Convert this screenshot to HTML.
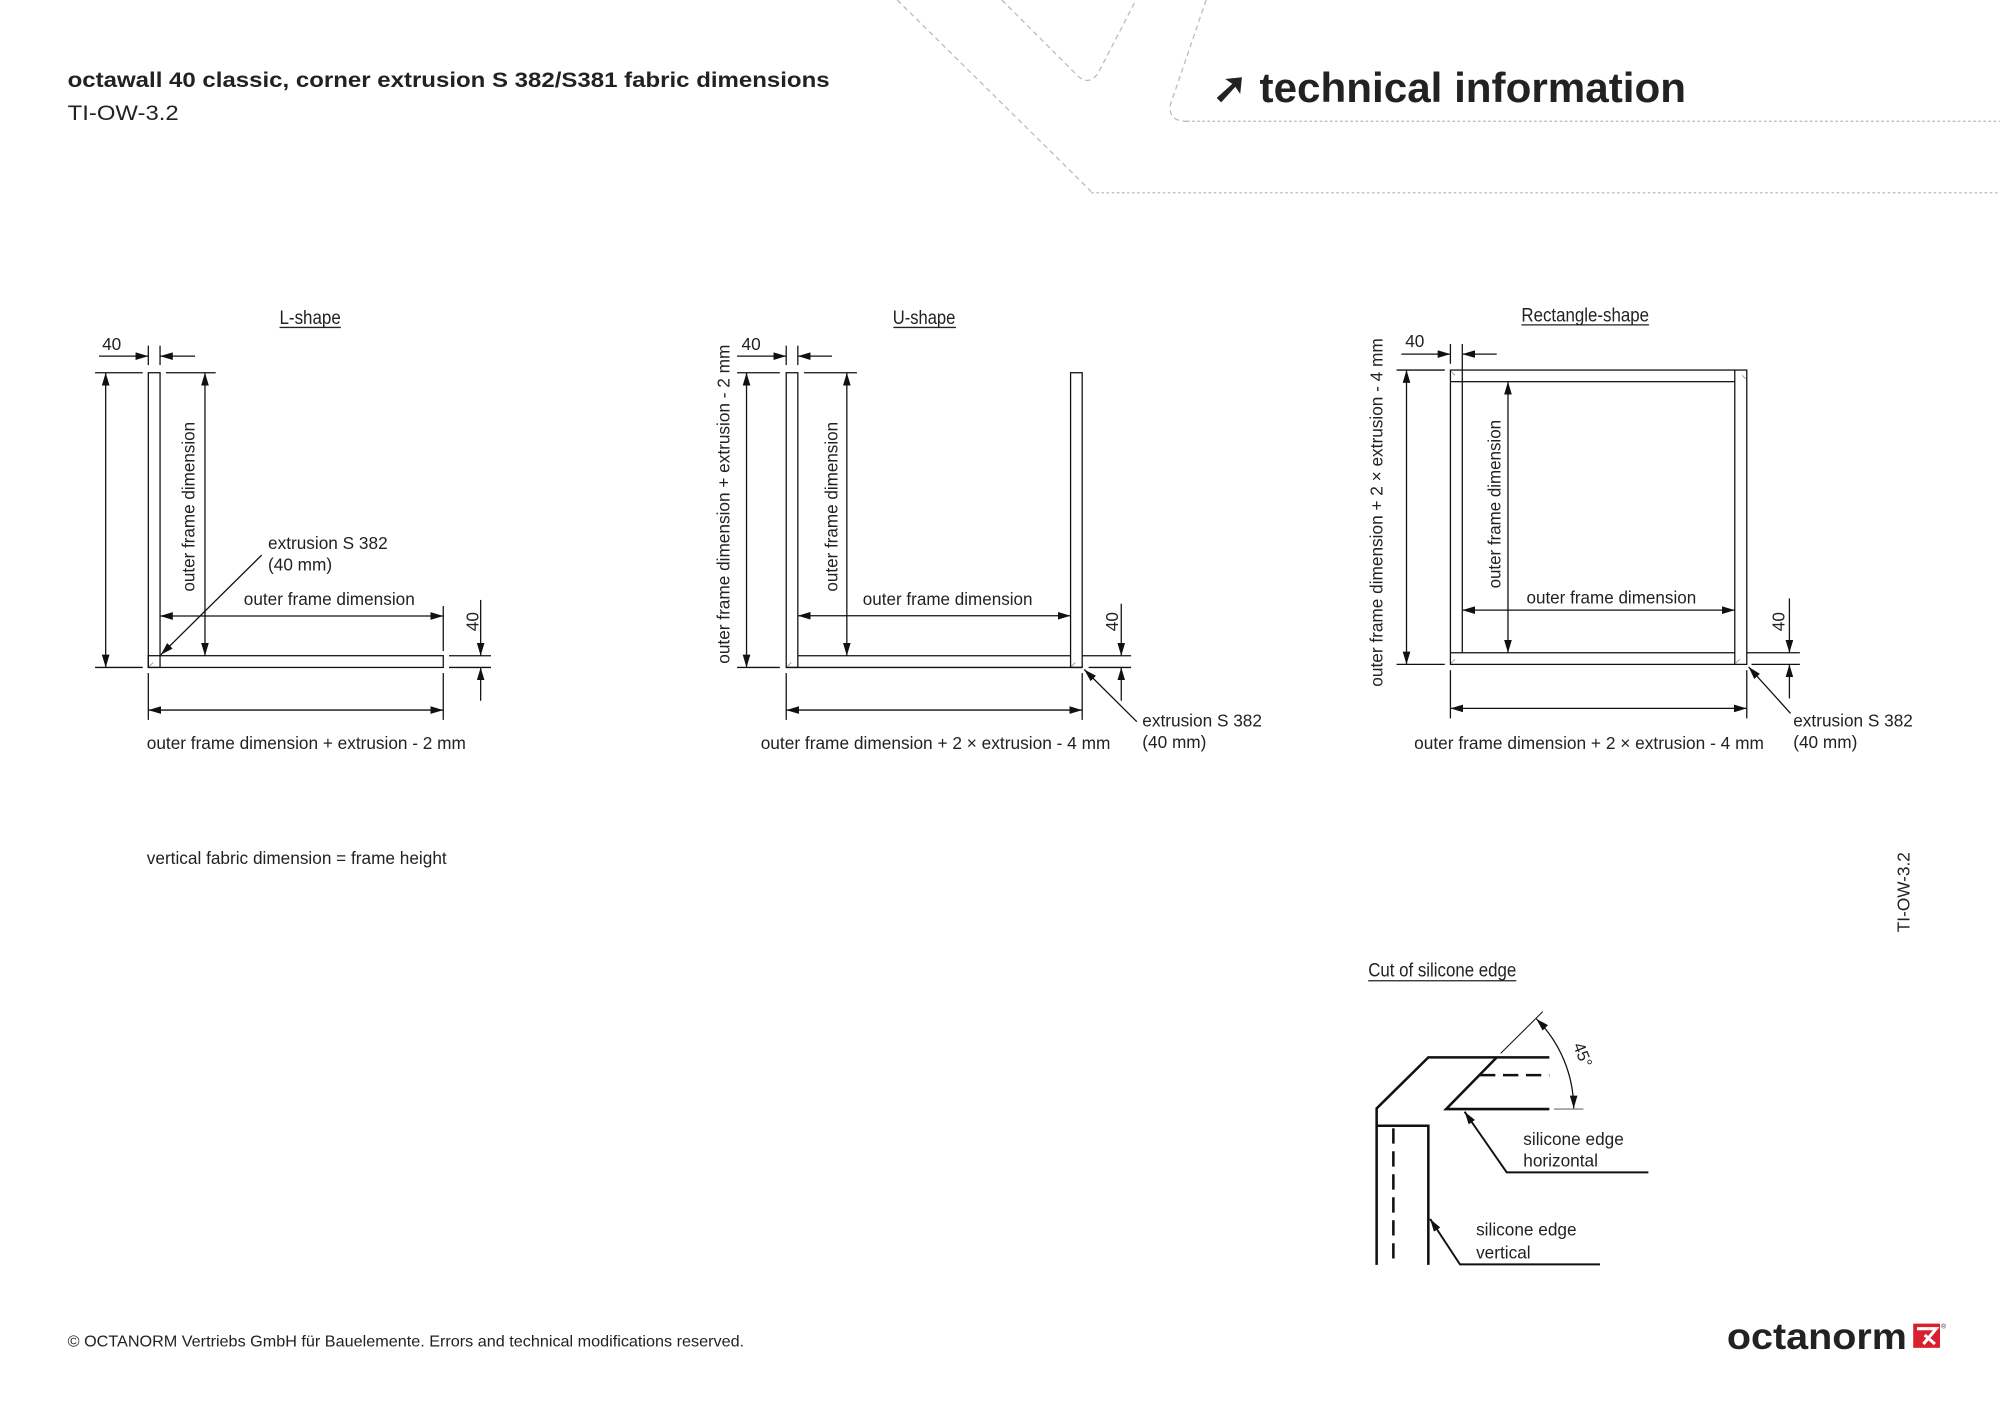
<!DOCTYPE html>
<html><head><meta charset="utf-8"><style>
html,body{margin:0;padding:0;background:#fff}
svg{display:block}
text{font-family:"Liberation Sans",sans-serif;fill:#222}
</style></head><body>
<svg width="2000" height="1413" viewBox="0 0 1567 1107" xmlns="http://www.w3.org/2000/svg">
<defs>
<marker id="a" markerUnits="userSpaceOnUse" markerWidth="11" markerHeight="6" refX="10" refY="3" orient="auto-start-reverse"><path d="M0,0 L10,3 L0,6 z" fill="#111"/></marker>
</defs>
<!-- header decor -->
<g fill="none" stroke="#bbb" stroke-width="1" stroke-dasharray="4,3">
<path d="M703,0 L855,150"/>
<path d="M855,151 L1567,151" stroke-dasharray="2,2"/>
<path d="M785,0 L843,58 Q852,68 860,58 L890,0"/>
<path d="M945,0 L917,82 Q915,95 930,95"/>
<path d="M930,95 L1567,95" stroke-dasharray="2,2"/>
</g>
<text x="53" y="68" font-size="17" font-weight="bold" fill="#3a3a3a" textLength="597" lengthAdjust="spacingAndGlyphs">octawall 40 classic, corner extrusion S 382/S381 fabric dimensions</text>
<text x="53" y="94" font-size="17" fill="#666" textLength="87" lengthAdjust="spacingAndGlyphs">TI-OW-3.2</text>
<text x="950" y="80" font-size="33" font-weight="bold" fill="#3a3a3a" textLength="371" lengthAdjust="spacingAndGlyphs">➚ technical information</text>

<g stroke="#111" stroke-width="1" fill="none">
<!-- L shape -->
<rect x="116.2" y="292" width="9.2" height="230.9"/>
<rect x="116.2" y="513.7" width="231.1" height="9.2"/>
<line x1="74.5" y1="292" x2="111.8" y2="292"/><line x1="130" y1="292" x2="169" y2="292"/>
<line x1="74.5" y1="522.9" x2="111.8" y2="522.9"/>
<line x1="82.8" y1="292" x2="82.8" y2="522.9" marker-start="url(#a)" marker-end="url(#a)"/>
<line x1="160.6" y1="292" x2="160.6" y2="513.7" marker-start="url(#a)" marker-end="url(#a)"/>
<line x1="116.2" y1="270.8" x2="116.2" y2="286"/><line x1="125.4" y1="270.8" x2="125.4" y2="286"/>
<line x1="77.6" y1="279" x2="116.2" y2="279" marker-end="url(#a)"/><line x1="152.8" y1="279" x2="125.4" y2="279" marker-end="url(#a)"/>
<line x1="125.4" y1="482.6" x2="347.3" y2="482.6" marker-start="url(#a)" marker-end="url(#a)"/>
<line x1="347.3" y1="474.8" x2="347.3" y2="510"/>
<line x1="351.8" y1="513.7" x2="384.7" y2="513.7"/><line x1="351.8" y1="522.9" x2="384.7" y2="522.9"/>
<line x1="376.6" y1="470" x2="376.6" y2="513.7" marker-end="url(#a)"/><line x1="376.6" y1="549" x2="376.6" y2="522.9" marker-end="url(#a)"/>
<line x1="116.2" y1="527.3" x2="116.2" y2="564"/><line x1="347.3" y1="527.3" x2="347.3" y2="564"/>
<line x1="116.2" y1="556.3" x2="347.3" y2="556.3" marker-start="url(#a)" marker-end="url(#a)"/>
<line x1="205" y1="434.9" x2="126" y2="513" marker-end="url(#a)"/>

<!-- U shape -->
<rect x="616" y="292" width="9.1" height="230.9"/>
<rect x="838.8" y="292" width="9.1" height="230.9"/>
<line x1="625.1" y1="513.7" x2="838.8" y2="513.7"/><line x1="616" y1="522.9" x2="847.9" y2="522.9"/>
<line x1="577.5" y1="292" x2="611" y2="292"/><line x1="630" y1="292" x2="671.4" y2="292"/>
<line x1="577.5" y1="522.9" x2="611" y2="522.9"/>
<line x1="584.9" y1="292" x2="584.9" y2="522.9" marker-start="url(#a)" marker-end="url(#a)"/>
<line x1="663.5" y1="292" x2="663.5" y2="513.7" marker-start="url(#a)" marker-end="url(#a)"/>
<line x1="616" y1="270.8" x2="616" y2="286"/><line x1="625.1" y1="270.8" x2="625.1" y2="286"/>
<line x1="577.5" y1="279" x2="616" y2="279" marker-end="url(#a)"/><line x1="651.9" y1="279" x2="625.1" y2="279" marker-end="url(#a)"/>
<line x1="625.1" y1="482.4" x2="838.8" y2="482.4" marker-start="url(#a)" marker-end="url(#a)"/>
<line x1="847.9" y1="513.7" x2="886.2" y2="513.7"/><line x1="852.9" y1="522.9" x2="886.2" y2="522.9"/>
<line x1="878.5" y1="473" x2="878.5" y2="513.7" marker-end="url(#a)"/><line x1="878.5" y1="549" x2="878.5" y2="522.9" marker-end="url(#a)"/>
<line x1="616" y1="527.3" x2="616" y2="564"/><line x1="847.9" y1="527.3" x2="847.9" y2="564"/>
<line x1="616" y1="556.3" x2="847.9" y2="556.3" marker-start="url(#a)" marker-end="url(#a)"/>
<line x1="890.7" y1="565.4" x2="849.5" y2="524.5" marker-end="url(#a)"/>

<!-- Rectangle -->
<rect x="1136.4" y="289.9" width="232.2" height="230.6"/>
<rect x="1145.7" y="299" width="213.5" height="212.4"/>
<line x1="1145.7" y1="269.5" x2="1145.7" y2="299"/>
<line x1="1136.4" y1="269.5" x2="1136.4" y2="285"/>
<line x1="1136.4" y1="299" x2="1145.7" y2="299"/><line x1="1359.2" y1="289.9" x2="1359.2" y2="299"/>
<line x1="1136.4" y1="511.4" x2="1145.7" y2="511.4"/><line x1="1359.2" y1="511.4" x2="1359.2" y2="520.5"/>
<line x1="1094.2" y1="289.9" x2="1132" y2="289.9"/><line x1="1094.2" y1="520.5" x2="1132" y2="520.5"/>
<line x1="1102" y1="289.9" x2="1102" y2="520.5" marker-start="url(#a)" marker-end="url(#a)"/>
<line x1="1181.5" y1="299" x2="1181.5" y2="511.4" marker-start="url(#a)" marker-end="url(#a)"/>
<line x1="1098" y1="277.4" x2="1136.4" y2="277.4" marker-end="url(#a)"/><line x1="1172.7" y1="277.4" x2="1145.7" y2="277.4" marker-end="url(#a)"/>
<line x1="1145.7" y1="478" x2="1359.2" y2="478" marker-start="url(#a)" marker-end="url(#a)"/>
<line x1="1368.6" y1="511.4" x2="1410.2" y2="511.4"/><line x1="1372.3" y1="520.5" x2="1410.2" y2="520.5"/>
<line x1="1402" y1="468.8" x2="1402" y2="511.4" marker-end="url(#a)"/><line x1="1402" y1="547.2" x2="1402" y2="520.5" marker-end="url(#a)"/>
<line x1="1136.4" y1="525" x2="1136.4" y2="562.8"/><line x1="1368.6" y1="525" x2="1368.6" y2="562.8"/>
<line x1="1136.4" y1="555" x2="1368.6" y2="555" marker-start="url(#a)" marker-end="url(#a)"/>
<line x1="1402.9" y1="558.9" x2="1370" y2="522.5" marker-end="url(#a)"/>
</g>
<g stroke="#888" stroke-width="0.6">
<line x1="117" y1="522" x2="120" y2="519"/><line x1="617" y1="522" x2="620" y2="519"/><line x1="839.5" y1="522" x2="842.5" y2="519"/>
<line x1="1137" y1="519.5" x2="1140" y2="516.5"/><line x1="1360" y1="519.5" x2="1363" y2="516.5"/>
<line x1="1137" y1="291" x2="1140" y2="294"/><line x1="1365" y1="294" x2="1368" y2="297"/>
</g>

<!-- labels -->
<g font-size="13.5">
<text x="243" y="254" text-anchor="middle" font-size="15" textLength="48" lengthAdjust="spacingAndGlyphs">L-shape</text>
<line x1="219" y1="256.5" x2="267" y2="256.5" stroke="#222"/>
<text x="724" y="254" text-anchor="middle" font-size="15" textLength="49" lengthAdjust="spacingAndGlyphs">U-shape</text>
<line x1="700" y1="256.5" x2="749" y2="256.5" stroke="#222"/>
<text x="1242" y="252" text-anchor="middle" font-size="15" textLength="100" lengthAdjust="spacingAndGlyphs">Rectangle-shape</text>
<line x1="1192" y1="254.5" x2="1292" y2="254.5" stroke="#222"/>

<text x="80" y="274">40</text><text x="581" y="274">40</text><text x="1101" y="272">40</text>
<text transform="translate(375,487) rotate(-90)" text-anchor="middle">40</text>
<text transform="translate(876,487) rotate(-90)" text-anchor="middle">40</text>
<text transform="translate(1398,487) rotate(-90)" text-anchor="middle">40</text>

<text transform="translate(152.5,397) rotate(-90)" text-anchor="middle" textLength="133" lengthAdjust="spacingAndGlyphs">outer frame dimension</text>
<text transform="translate(656,397) rotate(-90)" text-anchor="middle" textLength="133" lengthAdjust="spacingAndGlyphs">outer frame dimension</text>
<text transform="translate(1175.5,395) rotate(-90)" text-anchor="middle" textLength="132" lengthAdjust="spacingAndGlyphs">outer frame dimension</text>
<text transform="translate(571.7,395) rotate(-90)" text-anchor="middle" textLength="250" lengthAdjust="spacingAndGlyphs">outer frame dimension + extrusion - 2 mm</text>
<text transform="translate(1083,401.5) rotate(-90)" text-anchor="middle" textLength="273" lengthAdjust="spacingAndGlyphs">outer frame dimension + 2 × extrusion - 4 mm</text>

<text x="191" y="474" textLength="134" lengthAdjust="spacingAndGlyphs">outer frame dimension</text>
<text x="676" y="474" textLength="133" lengthAdjust="spacingAndGlyphs">outer frame dimension</text>
<text x="1196" y="473" textLength="133" lengthAdjust="spacingAndGlyphs">outer frame dimension</text>
<text x="210" y="430">extrusion S 382</text><text x="210" y="447">(40 mm)</text>
<text x="895" y="569">extrusion S 382</text><text x="895" y="586">(40 mm)</text>
<text x="1405" y="569">extrusion S 382</text><text x="1405" y="586">(40 mm)</text>
<text x="115" y="587" textLength="250" lengthAdjust="spacingAndGlyphs">outer frame dimension + extrusion - 2 mm</text>
<text x="596" y="587" textLength="274" lengthAdjust="spacingAndGlyphs">outer frame dimension + 2 × extrusion - 4 mm</text>
<text x="1108" y="587" textLength="274" lengthAdjust="spacingAndGlyphs">outer frame dimension + 2 × extrusion - 4 mm</text>
<text x="115" y="677" textLength="235" lengthAdjust="spacingAndGlyphs">vertical fabric dimension = frame height</text>
<text transform="translate(1496,699) rotate(-90)" text-anchor="middle">TI-OW-3.2</text>

<text x="1072" y="765" font-size="15" textLength="116" lengthAdjust="spacingAndGlyphs">Cut of silicone edge</text>
<line x1="1072" y1="768.4" x2="1188" y2="768.4" stroke="#222"/>
<text x="1193.5" y="897">silicone edge</text><text x="1193.5" y="914">horizontal</text>
<text x="1156.5" y="968">silicone edge</text><text x="1156.5" y="986">vertical</text>
<text transform="translate(1236,828) rotate(68)" text-anchor="middle" font-size="13">45°</text>
</g>

<!-- silicone drawing -->
<g stroke="#111" fill="none">
<polyline points="1078.6,991 1078.6,868.4 1119.1,828.4 1213.9,828.4" stroke-width="2"/>
<polyline points="1213.9,868.9 1133,868.9 1172.7,828.4" stroke-width="2"/>
<line x1="1159.6" y1="842.3" x2="1213.9" y2="842.3" stroke-width="2" stroke-dasharray="12,6"/>
<line x1="1217.6" y1="868.9" x2="1240.6" y2="868.9" stroke="#888" stroke-width="1"/>
<polyline points="1078.6,882 1119.1,882 1119.1,991" stroke-width="2"/>
<line x1="1091.7" y1="884" x2="1091.7" y2="991" stroke-width="2" stroke-dasharray="12,6"/>
<line x1="1175.8" y1="825.3" x2="1208.7" y2="792.6" stroke-width="0.8"/>
<path d="M1203.7,798.2 A100,100 0 0 1 1233,868.4" stroke-width="1" marker-start="url(#a)" marker-end="url(#a)"/>
<polyline points="1291.5,918.5 1180.5,918.5 1147.5,871" stroke-width="1.5" marker-end="url(#a)"/>
<polyline points="1253.6,990.6 1143.9,990.6 1120.5,955" stroke-width="1.5" marker-end="url(#a)"/>
</g>

<!-- footer -->
<text x="53" y="1055" font-size="12" fill="#777" textLength="530" lengthAdjust="spacingAndGlyphs">© OCTANORM Vertriebs GmbH für Bauelemente. Errors and technical modifications reserved.</text>
<text x="1353" y="1057" font-size="29" font-weight="bold" fill="#3c3c3c" textLength="141" lengthAdjust="spacingAndGlyphs">octanorm</text>
<rect x="1499" y="1037" width="21" height="19" fill="#d9202e"/>
<path d="M1502,1041 L1517,1041 L1507,1053 M1508,1046 L1516,1053" stroke="#fff" stroke-width="2.4" fill="none"/>
<text x="1521" y="1041" font-size="5" fill="#d9202e">®</text>
</svg>
</body></html>
